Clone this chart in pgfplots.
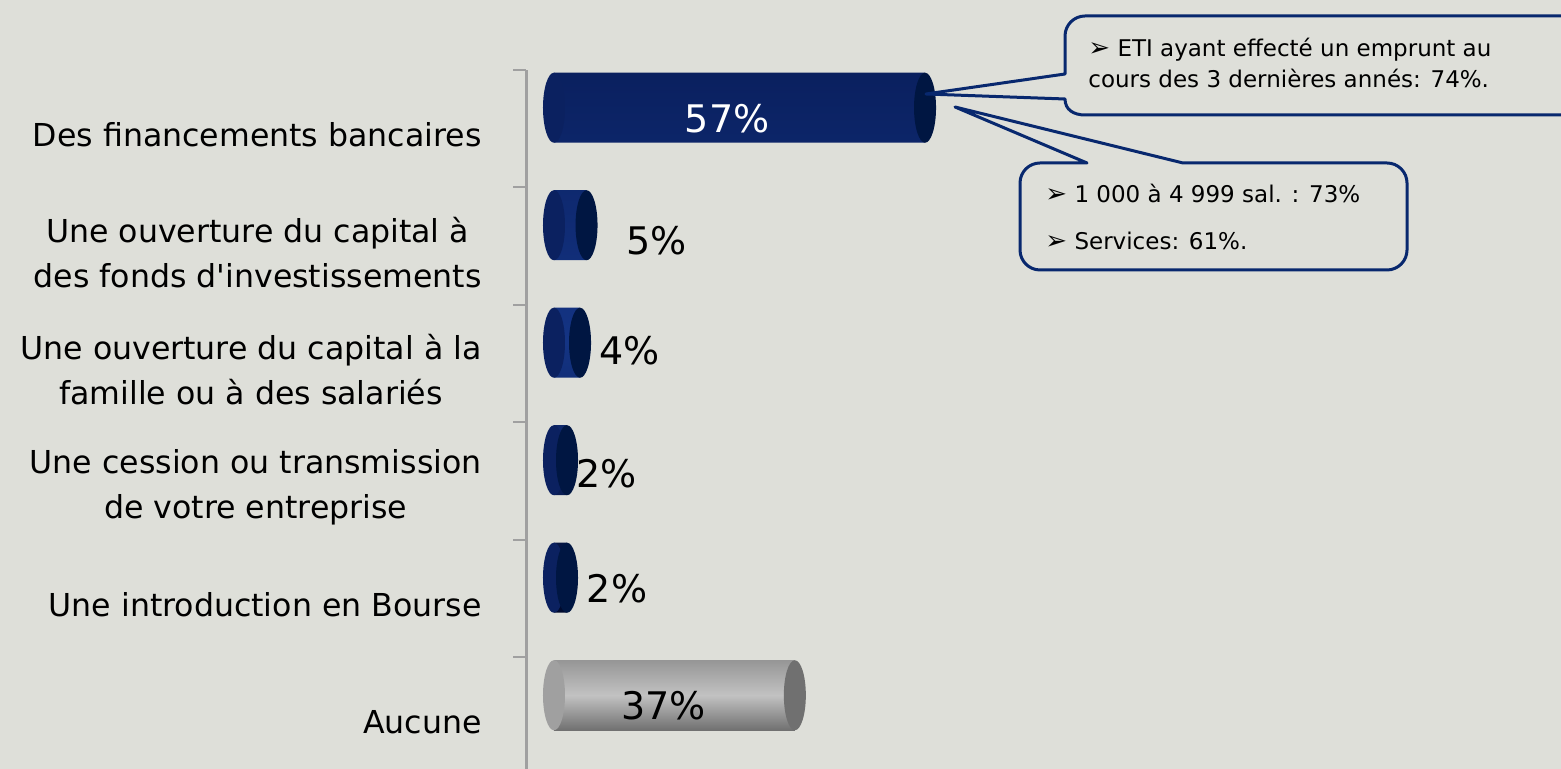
\documentclass[border=0pt]{standalone}
\usepackage{fontspec}
\setmainfont{DejaVu Sans}
\usepackage{pgfplots}
\pgfplotsset{compat=1.18}
\definecolor{bg}{RGB}{222,223,217}
\definecolor{navyT}{RGB}{10,32,95}
\definecolor{navyM}{RGB}{20,52,132}
\definecolor{navyB}{RGB}{0,10,45}
\definecolor{navyC}{RGB}{0,22,66}
\definecolor{navyL}{RGB}{11,33,96}
\definecolor{grayT}{RGB}{150,150,150}
\definecolor{grayM}{RGB}{194,194,194}
\definecolor{grayB}{RGB}{112,112,112}
\definecolor{grayC}{RGB}{112,112,112}
\definecolor{grayL}{RGB}{160,160,160}
\definecolor{callout}{RGB}{8,40,110}
\definecolor{axisgray}{RGB}{160,160,160}
\pgfdeclareplotmark{cap}{\pgfpathellipse{\pgfpoint{0pt}{10.5pt}}{\pgfpoint{5.5pt}{0pt}}{\pgfpoint{0pt}{17.5pt}}\pgfusepathqfill}
\begin{document}
\begin{tikzpicture}
\fill[bg] (0,0) rectangle (780.5pt,384.5pt);
\begin{axis}[
  at={(263pt,0pt)}, anchor=south west,
  scale only axis, width=517.5pt, height=349.5pt,
  xmin=-4.3, xmax=154.7, ymin=-0.449, ymax=5.5,
  axis x line=none, axis y line*=left,
  y axis line style={-, draw=axisgray, line width=1.5pt},
  xtick=\empty,
  ytick={0,...,5},
  yticklabels={Aucune, Une introduction en Bourse, {Une cession ou transmission\\de votre entreprise}, {Une ouverture du capital à la\\famille ou à des salariés}, {Une ouverture du capital à\\des fonds d\textquotesingle investissements}, Des financements bancaires},
  minor ytick={0.5,1.5,...,5.5},
  tick align=outside, major tick length=0pt, minor tick length=6.5pt,
  minor tick style={draw=axisgray, line width=1pt},
  yticklabel style={font=\fontsize{15.8pt}{22.5pt}\selectfont, align=center, anchor=east, inner sep=0pt, xshift=-22pt, yshift=-3pt},
  clip=false,
]
\addplot[only marks, mark=cap, mark options={fill=navyL}] coordinates {(0,5) (0,4) (0,3) (0,2) (0,1)};
\addplot[only marks, mark=cap, mark options={fill=grayL}] coordinates {(0,0)};
\addplot[xbar, bar width=35pt, bar shift=10.5pt, draw=none, top color=navyT, bottom color=navyB, middle color=navyM] coordinates {(57,5) (5,4) (4,3) (2,2) (2,1)};
\addplot[xbar, bar width=35pt, bar shift=10.5pt, draw=none, top color=grayT, bottom color=grayB, middle color=grayM] coordinates {(37,0)};
\addplot[only marks, mark=cap, mark options={fill=navyC}] coordinates {(57,5) (5,4) (4,3) (2,2) (2,1)};
\addplot[only marks, mark=cap, mark options={fill=grayC}] coordinates {(37,0)};
\addplot[draw=none, mark=none, nodes near coords, point meta=explicit symbolic,
  every node near coord/.append style={anchor=center, font=\fontsize{19pt}{22pt}\selectfont}]
  coordinates {(26.6,5.089) [\textcolor{white}{57\%}] (15.7,4.051) [5\%] (11.6,3.11) [4\%] (8.1,2.068) [2\%] (9.7,1.085) [2\%] (16.8,0.094) [37\%]};
\end{axis}
\begin{scope}[x=0.5pt, y=-0.5pt, yshift=384.5pt]
\draw[callout, line width=1.5pt, line join=round]
  (1600,16) -- (1085,16) .. controls (1074,16) and (1065,25) .. (1065,36) -- (1065,74) -- (926,94) -- (1065,99) .. controls (1065,110) and (1074,115) .. (1085,115) -- (1600,115);
\draw[callout, line width=1.5pt, line join=round]
  (1087,163) -- (955,107) -- (1183,163) -- (1387,163) .. controls (1398,163) and (1407,172) .. (1407,183) -- (1407,250) .. controls (1407,261) and (1398,270) .. (1387,270) -- (1040,270) .. controls (1029,270) and (1020,261) .. (1020,250) -- (1020,183) .. controls (1020,172) and (1029,163) .. (1040,163) -- cycle;
\begin{scope}[every node/.style={anchor=base west, inner sep=0pt, font=\fontsize{11.5pt}{14pt}\selectfont}]
\node at (1088,57) {{\fontsize{13pt}{14pt}\selectfont ➢} ETI ayant effecté un emprunt au};
\node at (1088,88) {cours des 3 dernières annés: 74\%.};
\node at (1045,203) {{\fontsize{13pt}{14pt}\selectfont ➢} 1 000 à 4 999 sal. : 73\%};
\node at (1045,250) {{\fontsize{13pt}{14pt}\selectfont ➢} Services: 61\%.};
\end{scope}
\end{scope}
\pgfresetboundingbox
\path (0,0) rectangle (780.5pt,384.5pt);
\end{tikzpicture}
\end{document}
